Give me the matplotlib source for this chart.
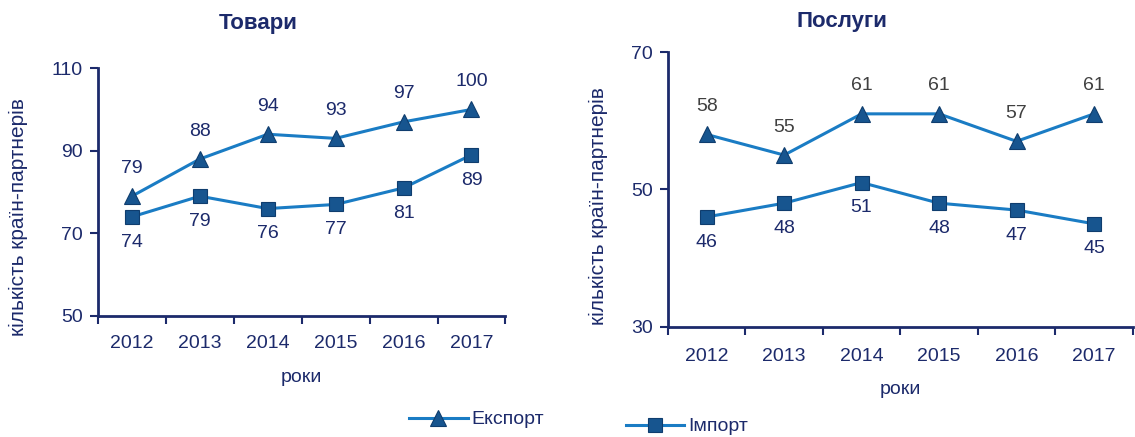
import matplotlib.pyplot as plt

plt.rcParams['font.family'] = ['Liberation Sans', 'DejaVu Sans']

# дані
years = ['2012', '2013', '2014', '2015', '2016', '2017']
goods_export = [79, 88, 94, 93, 97, 100]
goods_import = [74, 79, 76, 77, 81, 89]
serv_export = [58, 55, 61, 61, 57, 61]
serv_import = [46, 48, 51, 48, 47, 45]

line_c = '#1a7cc4'
mark_c = '#17558f'
navy = '#1c2a6b'
grey = '#404040'

fig = plt.figure(figsize=(11.35, 4.37), dpi=100)
ax1 = fig.add_axes([0.0863, 0.277, 0.359, 0.567])
ax2 = fig.add_axes([0.5885, 0.252, 0.4095, 0.629])


def draw(ax, exp, imp, ylim, yticks, title, exp_lab_c, title_x, title_pad, xpad, ylab_xy):
    x = list(range(len(years)))
    ax.plot(x, exp, color=line_c, lw=2.2, marker='^', ms=12,
            mfc=mark_c, mec='#0f3d6e', mew=0.8, label='Експорт')
    ax.plot(x, imp, color=line_c, lw=2.2, marker='s', ms=10,
            mfc=mark_c, mec='#0f3d6e', mew=0.8, label='Імпорт')
    for xi, v in zip(x, exp):
        ax.annotate(str(v), (xi, v), xytext=(0, 14), textcoords='offset points',
                    ha='center', va='bottom', fontsize=14, color=exp_lab_c)
    for xi, v in zip(x, imp):
        ax.annotate(str(v), (xi, v), xytext=(0, -12), textcoords='offset points',
                    ha='center', va='top', fontsize=14, color=navy)
    ax.set_xlim(-0.5, len(years) - 0.5)
    ax.set_ylim(*ylim)
    ax.set_yticks(yticks)
    ax.set_xticks(x)
    ax.set_xticklabels(years)
    ax.set_xticks([i - 0.5 for i in range(len(years) + 1)], minor=True)
    ax.tick_params(axis='x', which='major', length=0, pad=xpad, labelsize=14, labelcolor=navy)
    ax.tick_params(axis='x', which='minor', length=6, width=1.5, color=navy)
    ax.tick_params(axis='y', length=6, width=1.5, color=navy, labelsize=14,
                   labelcolor=navy, pad=5)
    for s in ['top', 'right']:
        ax.spines[s].set_visible(False)
    for s in ['left', 'bottom']:
        ax.spines[s].set_color(navy)
        ax.spines[s].set_linewidth(2)
    ax.set_title(title, fontsize=16, fontweight='bold', color=navy, pad=title_pad, x=title_x)
    ax.set_ylabel('кількість країн-партнерів', fontsize=15, color=navy)
    ax.yaxis.set_label_coords(*ylab_xy)
    ax.set_xlabel('роки', fontsize=14, color=navy, labelpad=12)


draw(ax1, goods_export, goods_import, (50, 110), [50, 70, 90, 110], 'Товари', navy,
     0.393, 28, 14, (-0.172, 0.40))
draw(ax2, serv_export, serv_import, (30, 70), [30, 50, 70], 'Послуги', grey,
     0.374, 18, 15, (-0.128, 0.44))

h1, l1 = ax1.get_legend_handles_labels()
fig.legend([h1[0]], [l1[0]], loc='center', bbox_to_anchor=(0.42, 0.04), frameon=False,
           fontsize=14, labelcolor=navy, handlelength=3, handletextpad=0.2)
fig.legend([h1[1]], [l1[1]], loc='center', bbox_to_anchor=(0.605, 0.024), frameon=False,
           fontsize=14, labelcolor=navy, handlelength=3, handletextpad=0.2)

fig.savefig('out.png', dpi=100)
